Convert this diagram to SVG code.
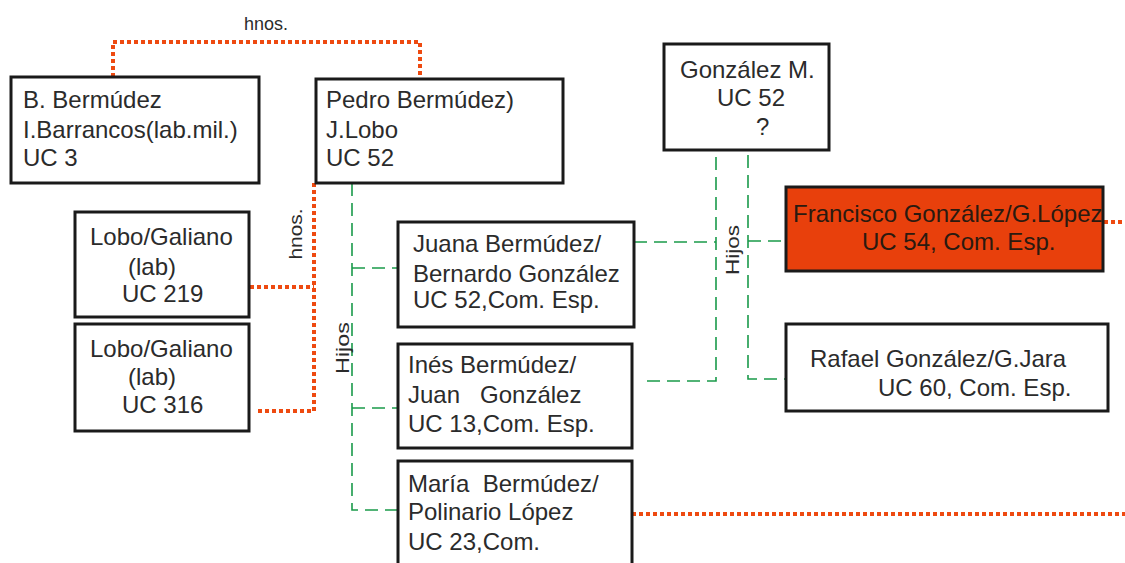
<svg xmlns="http://www.w3.org/2000/svg" width="1125" height="563" viewBox="0 0 1125 563">
<style>
.box{fill:#fff;stroke:#1a1a1a;stroke-width:3}
.red{fill:#e8400c}
.t{font-family:"Liberation Sans",Arial,sans-serif;font-size:24px;fill:#2b2b2b}
.s{font-family:"Liberation Sans",Arial,sans-serif;font-size:19px;fill:#2b2b2b}
.rd{fill:none;stroke:#ee4a10;stroke-width:4;stroke-dasharray:4 3}
.gd{fill:none;stroke:#1a9a4a;stroke-width:1.6;stroke-dasharray:13 7}
</style>
<rect width="1125" height="563" fill="#fff"/>
<g id="connectors">
<polyline class="rd" points="113,77 113,42 420,42 420,79"/>
<polyline class="rd" points="314,183 314,411 256,411"/>
<line class="rd" x1="250" y1="287" x2="314" y2="287"/>
<line class="rd" x1="632" y1="514" x2="1125" y2="514"/>
<line class="rd" x1="1104" y1="222" x2="1125" y2="222"/>
<polyline class="gd" points="352,183 352,510 398,510"/>
<line class="gd" x1="352" y1="268" x2="398" y2="268"/>
<line class="gd" x1="352" y1="408" x2="398" y2="408"/>
<polyline class="gd" points="716,157 716,381 643,381"/>
<polyline class="gd" points="748,155 748,379 786,379"/>
<line class="gd" x1="634" y1="242" x2="716" y2="242"/>
<line class="gd" x1="748" y1="241" x2="786" y2="241"/>
<text class="s" x="266" y="30" text-anchor="middle" textLength="44" lengthAdjust="spacingAndGlyphs">hnos.</text>
<text class="s" transform="translate(302,234) rotate(-90)" text-anchor="middle" textLength="51" lengthAdjust="spacingAndGlyphs">hnos.</text>
<text class="s" transform="translate(349,348) rotate(-90)" text-anchor="middle" textLength="52" lengthAdjust="spacingAndGlyphs">Hijos</text>
<text class="s" transform="translate(739,250) rotate(-90)" text-anchor="middle" textLength="50" lengthAdjust="spacingAndGlyphs">Hijos</text>
</g>
<g id="n-bbermudez">
<rect class="box" x="11" y="77" width="248" height="106"/>
<text class="t" x="23" y="108">B. Bermúdez</text>
<text class="t" x="23" y="138">I.Barrancos(lab.mil.)</text>
<text class="t" x="23" y="166">UC 3</text>
</g>
<g id="n-pedro">
<rect class="box" x="316" y="79" width="247" height="104"/>
<text class="t" x="326" y="108">Pedro Bermúdez)</text>
<text class="t" x="326" y="138">J.Lobo</text>
<text class="t" x="326" y="166">UC 52</text>
</g>
<g id="n-gonzalezm">
<rect class="box" x="664" y="44" width="165" height="106"/>
<text class="t" x="680" y="78">González M.</text>
<text class="t" x="717" y="106">UC 52</text>
<text class="t" x="756" y="135">?</text>
</g>
<g id="n-lobo219">
<rect class="box" x="75" y="212" width="174" height="105"/>
<text class="t" x="90" y="245">Lobo/Galiano</text>
<text class="t" x="128" y="275">(lab)</text>
<text class="t" x="122" y="302">UC 219</text>
</g>
<g id="n-lobo316">
<rect class="box" x="75" y="324" width="174" height="107"/>
<text class="t" x="90" y="357">Lobo/Galiano</text>
<text class="t" x="128" y="385">(lab)</text>
<text class="t" x="122" y="413">UC 316</text>
</g>
<g id="n-juana">
<rect class="box" x="398" y="222" width="236" height="105"/>
<text class="t" x="413" y="252">Juana Bermúdez/</text>
<text class="t" x="413" y="282">Bernardo González</text>
<text class="t" x="413" y="308">UC 52,Com. Esp.</text>
</g>
<g id="n-ines">
<rect class="box" x="398" y="344" width="234" height="104"/>
<text class="t" x="408" y="373">Inés Bermúdez/</text>
<text class="t" x="408" y="403" xml:space="preserve">Juan   González</text>
<text class="t" x="408" y="432">UC 13,Com. Esp.</text>
</g>
<g id="n-maria">
<rect class="box" x="398" y="461" width="234" height="110"/>
<text class="t" x="408" y="492" xml:space="preserve">María  Bermúdez/</text>
<text class="t" x="408" y="520">Polinario López</text>
<text class="t" x="408" y="550">UC 23,Com.</text>
</g>
<g id="n-francisco">
<rect class="box red" x="786" y="187" width="317" height="84"/>
<text class="t" x="793" y="222" style="fill:#2a1a10">Francisco González/G.López</text>
<text class="t" x="862" y="250" style="fill:#2a1a10">UC 54, Com. Esp.</text>
</g>
<g id="n-rafael">
<rect class="box" x="786" y="324" width="322" height="87"/>
<text class="t" x="810" y="367">Rafael González/G.Jara</text>
<text class="t" x="878" y="396">UC 60, Com. Esp.</text>
</g>
</svg>
